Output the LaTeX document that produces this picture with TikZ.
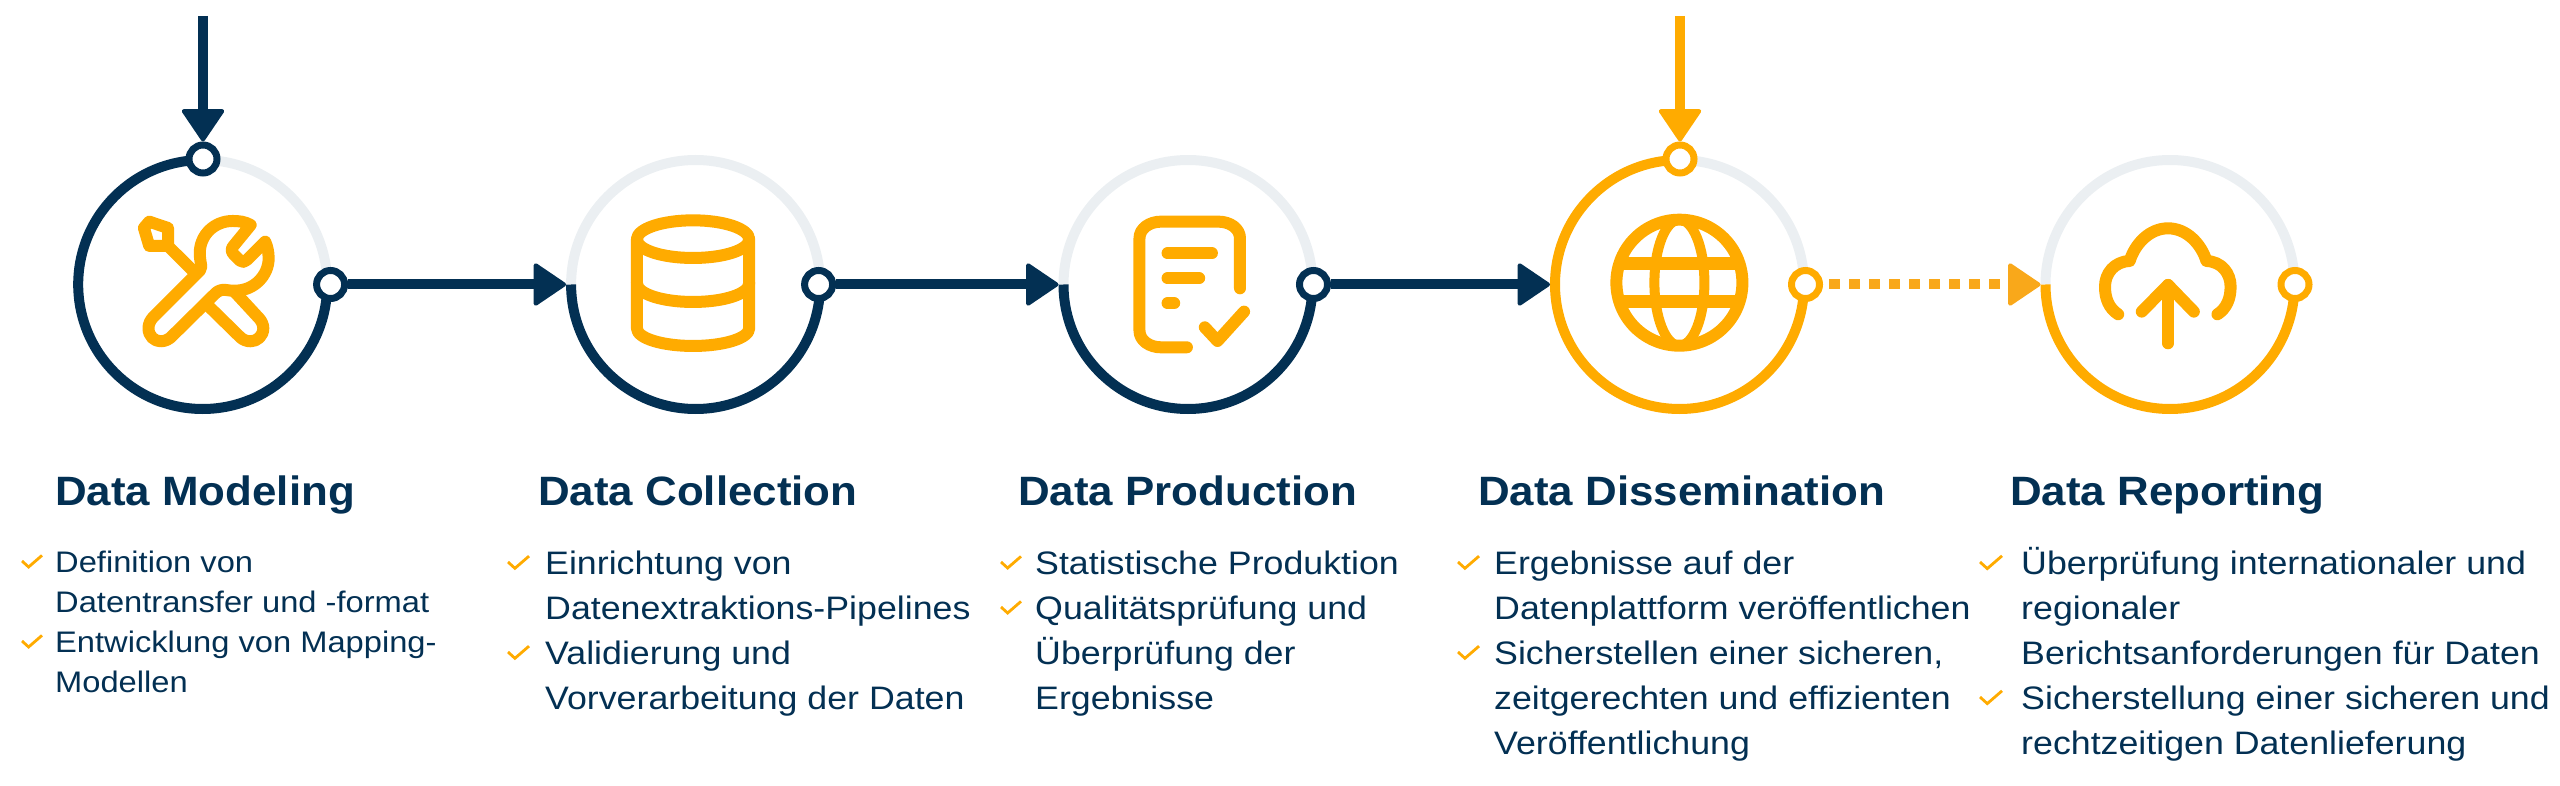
\documentclass[tikz,border=0pt]{standalone}
\usepackage{fontspec}
\setmainfont[FakeStretch=1.1]{Liberation Sans}
\newfontfamily\headfont[FakeStretch=1.07]{Liberation Sans}
\usetikzlibrary{arrows.meta}
\definecolor{navy}{HTML}{033053}
\definecolor{amber}{HTML}{FFAB00}
\definecolor{amberb}{HTML}{F9A81A}
\definecolor{pale}{HTML}{EBEFF2}
\newcommand{\chk}[3]{\draw[chkline] (#1,#2) -- ++(#3*0.33,#3*-0.30) -- ++(#3*0.67,#3*0.58);}
\newcommand{\fl}{\rule{0pt}{30pt}}
\tikzset{
  big/.style={circle,minimum size=259pt,inner sep=0pt,outer sep=0pt},
  ringn/.style={circle,draw=navy,line width=7pt,fill=white,minimum size=28pt,inner sep=0pt},
  ringa/.style={ringn,draw=amber},
  arcpale/.style={draw=pale,line width=10pt},
  arcn/.style={draw=navy,line width=10pt},
  arca/.style={draw=amber,line width=10pt},
  tipped/.style={line width=10pt,-{Triangle[length=34pt,width=45pt,round,line width=4pt]}},
  ico/.style={draw=amber,line width=12pt,line cap=round,line join=round},
  chkline/.style={draw=amber,line width=2.8pt,line join=miter},
  head/.style={anchor=base west,inner sep=0pt,text=navy,font=\headfont\fontsize{41}{44}\selectfont\bfseries},
  bodyl/.style={anchor=north west,inner sep=0pt,text=navy,align=left,font=\fontsize{32.5}{45}\selectfont},
  bodys/.style={anchor=north west,inner sep=0pt,text=navy,align=left,font=\fontsize{29.7}{40}\selectfont}
}
\begin{document}
\begin{tikzpicture}[x=1pt,y=1pt]
\useasboundingbox (0,0) rectangle (2560,-786);
% circles
\node[big] (c1) at (202.7,-284.5) {};
\node[big] (c2) at (695.6,-284.5) {};
\node[big] (c3) at (1188,-284.5) {};
\node[big] (c4) at (1679.5,-284.5) {};
\node[big] (c5) at (2170,-284.5) {};
% arcs
\draw[arcpale,shift={(c1.center)}] (90:124.5) arc[start angle=90,end angle=0,radius=124.5];
\draw[arcn,shift={(c1.center)}] (90:124.5) arc[start angle=90,end angle=360,radius=124.5];
\draw[arcpale,shift={(c2.center)}] (180:124.5) arc[start angle=180,end angle=0,radius=124.5];
\draw[arcn,shift={(c2.center)}] (180:124.5) arc[start angle=180,end angle=360,radius=124.5];
\draw[arcpale,shift={(c3.center)}] (180:124.5) arc[start angle=180,end angle=0,radius=124.5];
\draw[arcn,shift={(c3.center)}] (180:124.5) arc[start angle=180,end angle=360,radius=124.5];
\draw[arcpale,shift={(c4.center)}] (90:124.5) arc[start angle=90,end angle=0,radius=124.5];
\draw[arca,shift={(c4.center)}] (90:124.5) arc[start angle=90,end angle=360,radius=124.5];
\draw[arcpale,shift={(c5.center)}] (180:124.5) arc[start angle=180,end angle=0,radius=124.5];
\draw[arca,shift={(c5.center)}] (180:124.5) arc[start angle=180,end angle=360,radius=124.5];
% small rings
\node[ringn] (r1t) at (203,-159) {};
\node[ringn] (r1) at (330.6,-284.5) {};
\node[ringn] (r2) at (818.6,-284.5) {};
\node[ringn] (r3) at (1313.5,-284.5) {};
\node[ringa] (r4t) at (1680,-159) {};
\node[ringa] (r4) at (1805.5,-284.5) {};
\node[ringa] (r5) at (2295,-284.5) {};
% connectors
\coordinate (t1) at (203,-16);
\coordinate (t4) at (1680,-16);
\draw[tipped,navy] (t1) -- (r1t);
\draw[tipped,amber] (t4) -- (r4t);
\draw[tipped,navy] (r1) -- (c2.west);
\draw[tipped,navy] (r2) -- (c3.west);
\draw[tipped,navy] (r3) -- (c4.west);
\draw[tipped,amberb,dash pattern=on 11pt off 9pt,dash phase=14pt] (r4) -- (c5.west);
% wrench + pen
\begin{scope}[x=0.3827pt,y=-0.3333pt]
\draw[ico] (376,684) -- (390,665) -- (439,684) -- (439,738) -- (390,738) -- cycle;
\draw[ico] (445,745) -- (500,808);
\draw[ico] (615,878) -- (677,955) .. controls (684,964) and (688,975) .. (688,985) .. controls (688,1008) and (672,1024) .. (655,1024) .. controls (645,1024) and (635,1020) .. (628,1012) -- (548,922);
\draw[ico] (655,675) .. controls (640,665) and (625,663) .. (608,663) .. controls (560,663) and (522,705) .. (522,760) .. controls (522,775) and (525,790) .. (526,800) .. controls (526,810) and (520,815) .. (515,820) -- (400,952) .. controls (392,962) and (388,973) .. (388,985) .. controls (388,1008) and (403,1024) .. (420,1024) .. controls (432,1024) and (443,1017) .. (450,1008) -- (563,880) .. controls (570,872) and (580,868) .. (590,870) .. controls (598,872) and (605,872) .. (615,872) .. controls (665,872) and (702,825) .. (702,775) .. controls (702,755) and (698,738) .. (693,725) -- (645,780) .. controls (640,787) and (632,787) .. (627,782) -- (610,762) .. controls (604,755) and (604,745) .. (610,738) -- cycle;
\end{scope}
% database
\begin{scope}[shift={(540,-130)},x=0.5102pt,y=-0.3333pt]
\draw[ico] (190,328) .. controls (190,296) and (240,271) .. (300,271) .. controls (360,271) and (410,296) .. (410,328) .. controls (410,360) and (360,384) .. (300,384) .. controls (240,384) and (190,360) .. (190,328) -- cycle;
\draw[ico] (190,328) -- (190,595) .. controls (190,625) and (240,648) .. (300,648) .. controls (360,648) and (410,625) .. (410,595) -- (410,328);
\draw[ico] (190,460) .. controls (190,492) and (240,516) .. (300,516) .. controls (360,516) and (410,492) .. (410,460);
% document
\draw[ico] (1372,475) -- (1372,325) .. controls (1372,295) and (1352,275) .. (1330,275) -- (1217,275) .. controls (1195,275) and (1175,295) .. (1175,325) -- (1175,602) .. controls (1175,632) and (1195,652) .. (1217,652) -- (1268,652);
\draw[ico] (1230,370) -- (1317,370);
\draw[ico] (1230,445) -- (1292,445);
\draw[ico] (1230,520) -- (1243,520);
\draw[ico] (1303,592) -- (1328,633) -- (1380,545);
\end{scope}
% globe
\draw[ico] (1679.4,-282.7) circle[radius=63];
\draw[draw=amber,line width=10pt] (1679.4,-282.7) ellipse[x radius=25,y radius=63];
\draw[draw=amber,line width=12.5pt] (1622,-263.5) -- (1737,-263.5);
\draw[draw=amber,line width=12.5pt] (1622,-301.7) -- (1737,-301.7);
% cloud + arrow
\begin{scope}[shift={(1500,0)},x=0.5485pt,y=-0.3333pt]
\draw[ico] (1127,943) .. controls (1110,925) and (1103,895) .. (1103,860) .. controls (1103,820) and (1120,785) .. (1148,783) .. controls (1158,730) and (1185,685) .. (1218,685) .. controls (1251,685) and (1278,730) .. (1288,783) .. controls (1316,785) and (1332,820) .. (1332,860) .. controls (1332,895) and (1325,925) .. (1308,943);
\draw[ico] (1218,1030) -- (1218,855);
\draw[ico] (1170,935) -- (1218,855) -- (1265,935);
\end{scope}
% headings
\node[head] (h1) at (55,-505) {Data Modeling};
\node[head] (h2) at (538,-505) {Data Collection};
\node[head] (h3) at (1018,-505) {Data Production};
\node[head] (h4) at (1478,-505) {Data Dissemination};
\node[head] (h5) at (2010,-505) {Data Reporting};
% bodies
\node[bodys] (b1) at (55,-542) {\fl Definition von\\Datentransfer und -format\\Entwicklung von Mapping-\\Modellen};
\node[bodyl] (b2) at (545,-544) {\fl Einrichtung von\\Datenextraktions-Pipelines\\Validierung und\\Vorverarbeitung der Daten};
\node[bodyl] (b3) at (1035,-544) {\fl Statistische Produktion\\Qualitätsprüfung und\\Überprüfung der\\Ergebnisse};
\node[bodyl] (b4) at (1494,-544) {\fl Ergebnisse auf der\\Datenplattform veröffentlichen\\Sicherstellen einer sicheren,\\zeitgerechten und effizienten\\Veröffentlichung};
\node[bodyl] (b5) at (2021,-544) {\fl Überprüfung internationaler und\\regionaler\\Berichtsanforderungen für Daten\\Sicherstellung einer sicheren und\\rechtzeitigen Datenlieferung};
% checks
\chk{22}{-561}{20} \chk{22}{-641}{20}
\chk{508}{-562}{21} \chk{508}{-652}{21}
\chk{1001}{-562}{20} \chk{1001}{-607}{20}
\chk{1458}{-562}{21} \chk{1458}{-652}{21}
\chk{1980}{-562}{22} \chk{1980}{-697}{22}
\end{tikzpicture}
\end{document}
